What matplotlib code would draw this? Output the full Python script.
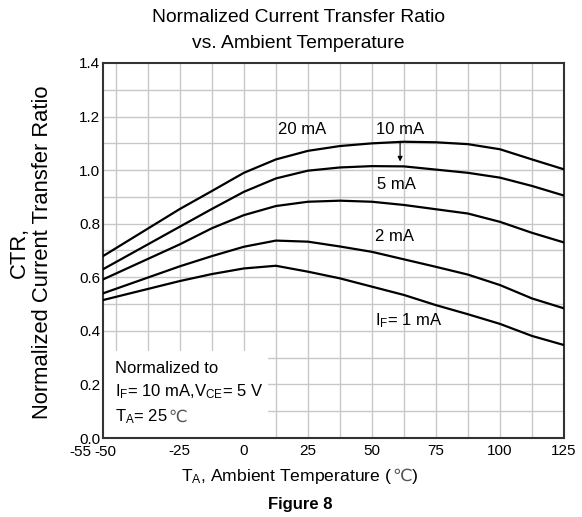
import numpy as np
import matplotlib.pyplot as plt
from matplotlib.patches import Rectangle

# temperature points (deg C)
temp = [-55, -25, -12.5, 0, 12.5, 25, 37.5, 50, 62.5, 75, 87.5, 100, 112.5, 125]
ctr_20ma = [0.679, 0.855, 0.922, 0.990, 1.040, 1.072, 1.090, 1.100, 1.106, 1.104, 1.097, 1.078, 1.040, 1.003]
ctr_10ma = [0.630, 0.789, 0.855, 0.919, 0.969, 0.998, 1.010, 1.015, 1.014, 1.002, 0.990, 0.972, 0.941, 0.905]
ctr_5ma = [0.592, 0.723, 0.783, 0.832, 0.866, 0.882, 0.886, 0.882, 0.870, 0.854, 0.838, 0.807, 0.766, 0.730]
ctr_2ma = [0.540, 0.641, 0.679, 0.714, 0.737, 0.733, 0.715, 0.695, 0.667, 0.639, 0.610, 0.571, 0.521, 0.484]
ctr_1ma = [0.515, 0.586, 0.612, 0.633, 0.643, 0.621, 0.596, 0.565, 0.534, 0.496, 0.462, 0.426, 0.381, 0.347]

xticks = [-25, 0, 25, 50, 75, 100, 125]
yticks = [0.0, 0.2, 0.4, 0.6, 0.8, 1.0, 1.2, 1.4]

plt.rcParams['font.family'] = ['Liberation Sans', 'DejaVu Sans']
plt.rcParams['mathtext.fontset'] = 'custom'
plt.rcParams['mathtext.rm'] = 'Liberation Sans'

fig = plt.figure(figsize=(5.82, 5.17), dpi=100)
ax = fig.add_axes([103/582, 79/517, 461/582, 375/517])

# grid
for gx in np.arange(-50, 125, 12.5):
    ax.axvline(gx, color='#c8c8c8', lw=1.0, zorder=1)
for gy in np.arange(0.1, 1.4, 0.1):
    ax.axhline(gy, color='#c8c8c8', lw=1.0, zorder=1)

# white box behind the note
ax.add_patch(Rectangle((-55, 0), 64.5, 0.325, facecolor='white', edgecolor='none', zorder=2))

for s in [ctr_20ma, ctr_10ma, ctr_5ma, ctr_2ma, ctr_1ma]:
    ax.plot(temp, s, color='black', lw=1.6, zorder=3)

ax.set_xlim(-55, 125)
ax.set_ylim(0, 1.4)
ax.set_xticks(xticks)
ax.set_xticklabels([str(t) for t in xticks])
ax.set_yticks(yticks)
ax.set_yticklabels(['%.1f' % t for t in yticks])
ax.tick_params(axis='y', length=0, labelsize=11, pad=2)
ax.tick_params(axis='x', length=0, labelsize=11, pad=4)
for sp in ax.spines.values():
    sp.set_linewidth(1.5)
    sp.set_color('#333333')

# the two crowded labels at the left end of the x axis
xt = ax.get_xaxis_transform()
ax.text(-64, -0.02, '-55', fontsize=11, ha='center', va='top', transform=xt, clip_on=False)
ax.text(-54, -0.02, '-50', fontsize=11, ha='center', va='top', transform=xt, clip_on=False)

# curve labels
ax.text(22.9, 1.152, '20 mA', fontsize=12, ha='center', va='center', zorder=4)
ax.text(61, 1.153, '10 mA', fontsize=12, ha='center', va='center', zorder=4)
ax.annotate('', xy=(61, 1.022), xytext=(61, 1.118),
            arrowprops=dict(arrowstyle='-|>', color='black', lw=0.8, mutation_scale=7), zorder=4)
ax.text(52, 0.948, '5 mA', fontsize=12, ha='left', va='center', zorder=4)
ax.text(51.2, 0.751, '2 mA', fontsize=12, ha='left', va='center', zorder=4)
ax.text(51.2, 0.438, r'$\mathregular{I_F}$= 1 mA', fontsize=12, ha='left', va='center', zorder=4)

# note
ax.text(-50.3, 0.261, 'Normalized to', fontsize=12, ha='left', va='center', zorder=4)
ax.text(-50.3, 0.172, r'$\mathregular{I_F}$= 10 mA,$\mathregular{V_{CE}}$= 5 V', fontsize=12,
        ha='left', va='center', zorder=4)
ta = ax.text(-50.3, 0.078, r'$\mathregular{T_A}$= 25 ', fontsize=12, ha='left', va='center', zorder=4)
ax.annotate('℃', xy=(1, 0.5), xycoords=ta, fontsize=12, ha='left', va='center',
            family='DejaVu Sans', color='#555555', zorder=4)

# titles and axis labels
fig.text(298/582, 1 - 17/517, 'Normalized Current Transfer Ratio', fontsize=13.9, ha='center', va='center')
fig.text(298/582, 1 - 44/517, 'vs. Ambient Temperature', fontsize=13.9, ha='center', va='center')
fig.text(25/582, 1 - 252/517, 'CTR,', fontsize=15.8, rotation=90, rotation_mode='anchor',
         ha='center', va='baseline')
fig.text(48/582, 1 - 252/517, 'Normalized Current Transfer Ratio', fontsize=15.8, rotation=90,
         rotation_mode='anchor', ha='center', va='baseline')
xl = fig.text(287/582, 1 - 476/517, r'$\mathregular{T_A}$, Ambient Temperature (', fontsize=12.6,
              ha='center', va='center')
xl2 = ax.annotate('℃', xy=(1, 0.5), xycoords=xl, fontsize=12.6, ha='left', va='center',
                  family='DejaVu Sans', color='#555555')
ax.annotate(')', xy=(1, 0.5), xycoords=xl2, fontsize=12.6, ha='left', va='center')
fig.text(300/582, 1 - 504/517, 'Figure 8', fontsize=12, fontweight='bold', ha='center', va='center')

fig.savefig('out.png', dpi=100)
